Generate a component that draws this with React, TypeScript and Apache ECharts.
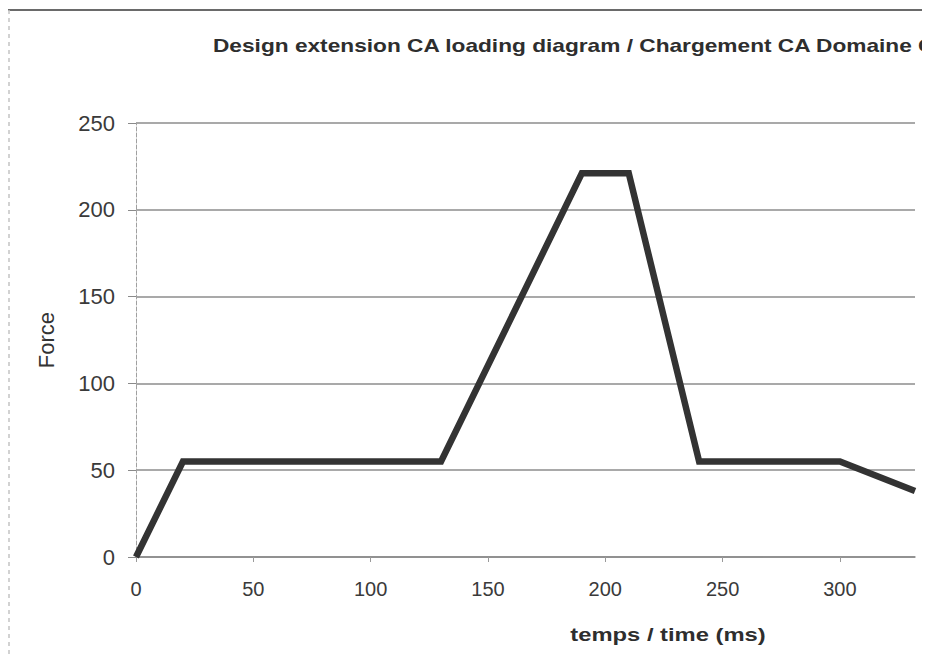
import React, { useEffect, useRef } from "react";
import * as echarts from "echarts";

const chartTitle = "Design extension CA loading diagram / Chargement CA Domaine Complémentaire";
const xAxisName = "temps / time (ms)";
const yAxisName = "Force";
const timeMs = [0, 20, 130, 190, 210, 240, 300, 332];
const forceValues = [0, 55, 55, 221, 221, 55, 55, 38];
const xTickStep = 50;
const yTicks = [0, 50, 100, 150, 200, 250];

export default function App() {
  const ref = useRef<HTMLDivElement>(null);
  useEffect(() => {
    if (!ref.current) return;
    const chart = echarts.init(ref.current, null, { renderer: "svg" });
    const font = "Liberation Sans, Arial, sans-serif";
    chart.setOption({
      animation: false,
      backgroundColor: "#ffffff",
      grid: { left: 128, right: 15, top: 115, bottom: 101, containLabel: false },
      xAxis: {
        type: "value",
        min: 0,
        max: timeMs[timeMs.length - 1],
        interval: xTickStep,
        axisLine: { show: true, lineStyle: { color: "#8a8a8a", width: 1.5 } },
        axisTick: { show: true, length: 5, lineStyle: { color: "#9a9a9a" } },
        axisLabel: {
          showMaxLabel: false,
          margin: 22,
          fontFamily: font,
          fontSize: 20,
          color: "#3a3a3a",
        },
        splitLine: { show: false },
      },
      yAxis: {
        type: "value",
        min: yTicks[0],
        max: yTicks[yTicks.length - 1],
        interval: 50,
        axisLine: { show: true, lineStyle: { color: "#a0a0a0", width: 1, type: "dashed" } },
        axisTick: { show: true, length: 8, lineStyle: { color: "#8a8a8a" } },
        axisLabel: { margin: 21, fontFamily: font, fontSize: 22, color: "#3a3a3a" },
        splitLine: { show: true, lineStyle: { color: "#8c8c8c", width: 1.5 } },
      },
      graphic: [
        { type: "line", shape: { x1: 0, y1: 2, x2: 930, y2: 2 }, style: { stroke: "#6a6a6a", lineWidth: 2 } },
        { type: "line", shape: { x1: 1, y1: 2, x2: 1, y2: 666 }, style: { stroke: "#c4c4c4", lineWidth: 1.5, lineDash: [4, 4] } },
        {
          type: "text",
          x: 205,
          y: 37,
          scaleX: 1.26,
          style: { text: chartTitle, font: "bold 18px " + font, fill: "#2e2e2e", textAlign: "left", textVerticalAlign: "middle" },
        },
        {
          type: "text",
          x: 660,
          y: 627,
          scaleX: 1.25,
          style: { text: xAxisName, font: "bold 19px " + font, fill: "#2e2e2e", textAlign: "center", textVerticalAlign: "middle" },
        },
        {
          type: "text",
          x: 38,
          y: 332,
          rotation: Math.PI / 2,
          style: { text: yAxisName, font: "22px " + font, fill: "#333333", textAlign: "center", textVerticalAlign: "middle" },
        },
      ],
      series: [
        {
          type: "line",
          data: timeMs.map((t, i) => [t, forceValues[i]]),
          symbol: "none",
          lineStyle: { color: "#333333", width: 6.5, join: "miter" },
        },
      ],
    });
    return () => chart.dispose();
  }, []);
  return <div ref={ref} style={{ width: 922, height: 650 }} />;
}
